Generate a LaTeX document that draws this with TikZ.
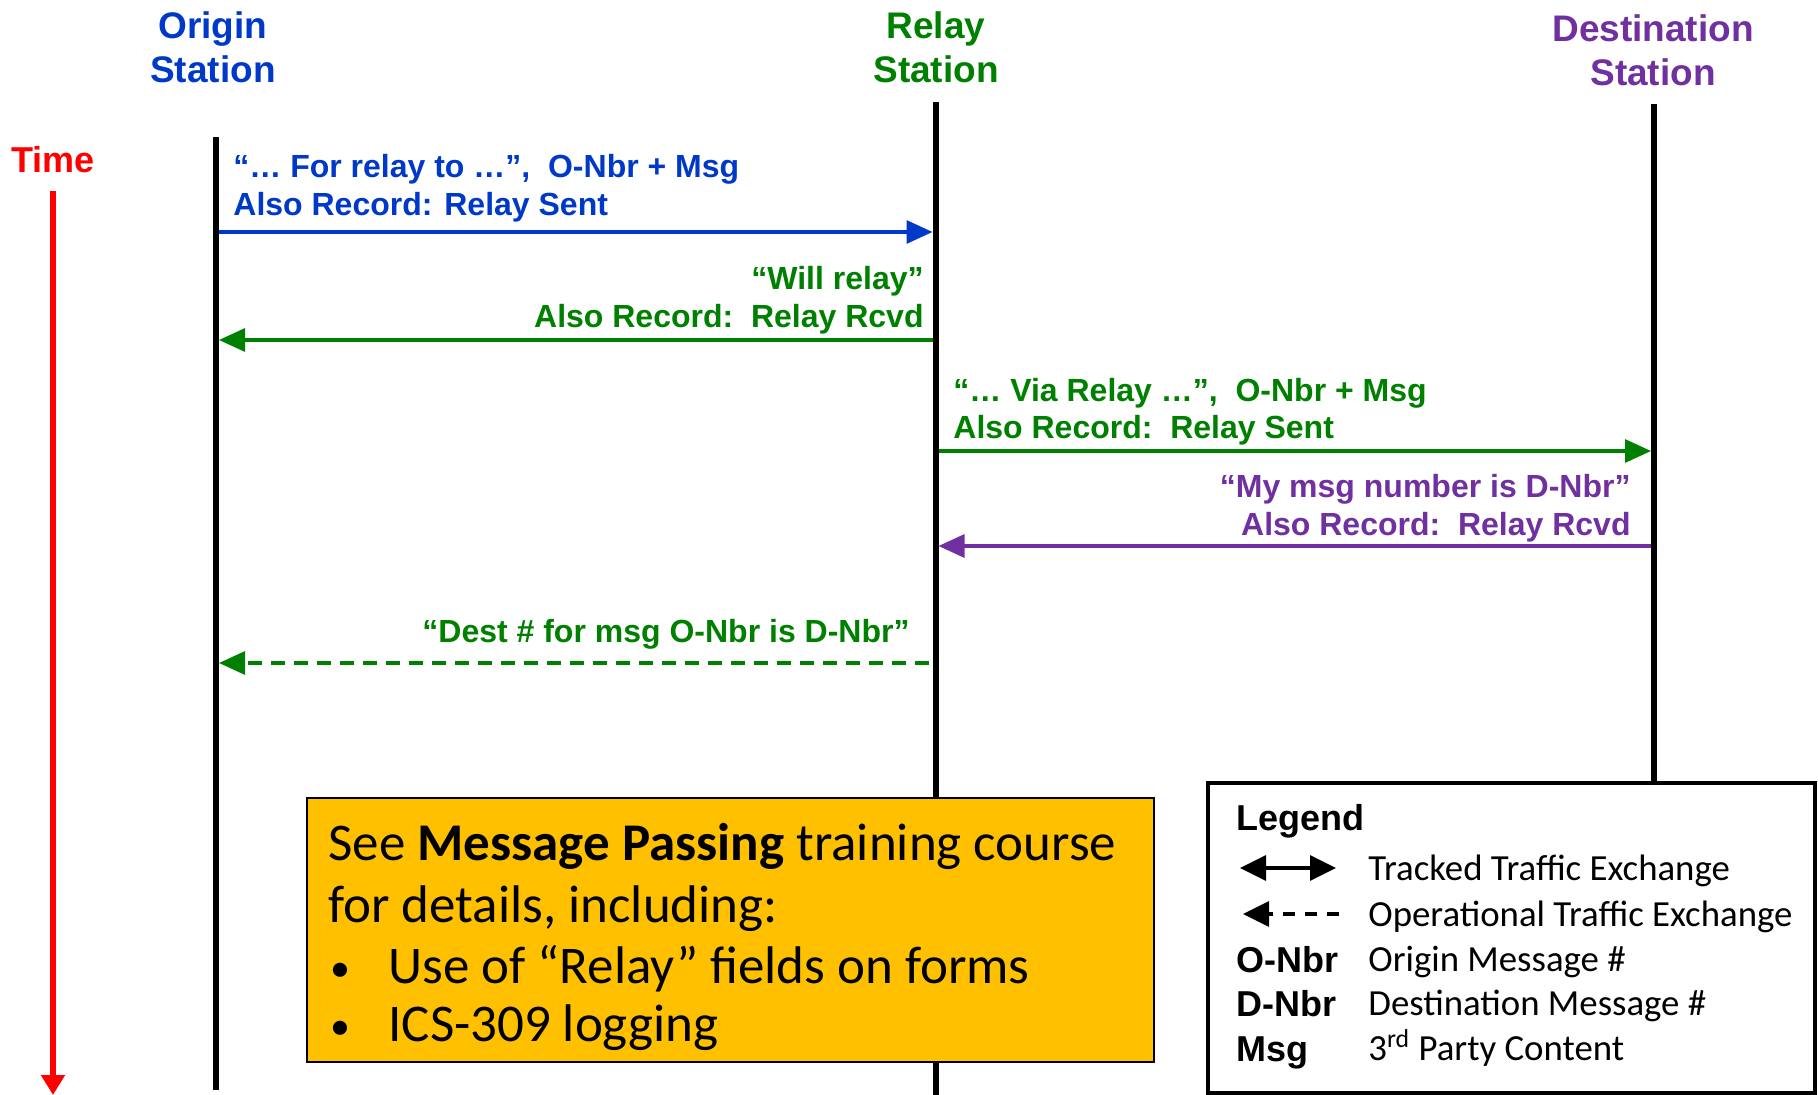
\documentclass[tikz,border=0pt]{standalone}
\usepackage{fontspec}
\usetikzlibrary{arrows.meta}
\newfontfamily\hfont{Liberation Sans}
\newfontfamily\cfont{Carlito}
\definecolor{cblue}{RGB}{0,56,200}
\definecolor{cgreen}{RGB}{0,128,0}
\definecolor{cpurple}{RGB}{112,48,160}
\definecolor{cred}{RGB}{255,0,0}
\definecolor{cyellow}{RGB}{255,192,0}
\begin{document}
\begin{tikzpicture}[x=0.5pt,y=-0.5pt,
  hdr/.style={font=\hfont\bfseries\fontsize{18.5}{22}\selectfont,inner sep=0pt},
  lbl/.style={font=\hfont\bfseries\fontsize{16}{19}\selectfont,inner sep=0pt},
  lifeline/.style={line width=3pt,black},
  msg/.style={line width=1.6pt,-{Triangle[length=13pt,width=11.5pt]}},
  boxtxt/.style={font=\cfont\fontsize{26.5}{30}\selectfont,inner sep=0pt,anchor=base west},
  legkey/.style={font=\hfont\bfseries\fontsize{18}{22}\selectfont,inner sep=0pt,anchor=base west},
  legtxt/.style={font=\cfont\fontsize{18.4}{22}\selectfont,inner sep=0pt,anchor=base west}]
\useasboundingbox (0,0) rectangle (1818,1095);
% headers
\node[hdr,cblue,align=center] (hO) at (213,47) {Origin\\Station};
\node[hdr,cgreen,align=center] (hR) at (936,47) {Relay\\Station};
\node[hdr,cpurple,align=center] (hD) at (1653,50) {Destination\\Station};
% lifelines
\coordinate (oT) at (215.6,137); \coordinate (oB) at (215.6,1090);
\coordinate (rT) at (935.6,102); \coordinate (rB) at (935.6,1095);
\coordinate (dT) at (1654,104); \coordinate (dB) at (1654,783);
\draw[lifeline] (oT) -- (oB);
\draw[lifeline] (rT) -- (rB);
\draw[lifeline] (dT) -- (dB);
% time
\node[font=\hfont\bfseries\fontsize{18}{22}\selectfont,text=cred,inner sep=0pt] (time) at (53,160) {Time};
\coordinate (tT) at (53,191); \coordinate (tB) at (53,1095);
\draw[cred,line width=3pt,-{Triangle[length=10pt,width=11.5pt]}] (tT) -- (tB);
% arrow endpoints
\coordinate (o1) at (219,232); \coordinate (r1) at (932.5,232);
\coordinate (r2) at (932.5,340); \coordinate (o2) at (219,340);
\coordinate (r3) at (938.5,451); \coordinate (d3) at (1651,451);
\coordinate (d4) at (1651,546); \coordinate (r4) at (938.5,546);
\coordinate (r5) at (929,663); \coordinate (o5) at (219,663);
% message 1
\node[lbl,cblue,anchor=base west] (m1a) at (233,177.5) {“… For relay to …”,\ \ O-Nbr + Msg};
\node[lbl,cblue,anchor=base west] (m1b) at (233,215.5) {Also Record: Relay Sent};
\draw[msg,cblue] (o1) -- (r1);
% message 2
\node[lbl,cgreen,anchor=base east] (m2a) at (924,289.5) {“Will relay”};
\node[lbl,cgreen,anchor=base east] (m2b) at (924,327.5) {Also Record:\ \ Relay Rcvd};
\draw[msg,cgreen] (r2) -- (o2);
% message 3
\node[lbl,cgreen,anchor=base west] (m3a) at (953,401.5) {“… Via Relay …”,\ \ O-Nbr + Msg};
\node[lbl,cgreen,anchor=base west] (m3b) at (953,438.5) {Also Record:\ \ Relay Sent};
\draw[msg,cgreen] (r3) -- (d3);
% message 4
\node[lbl,cpurple,anchor=base east] (m4a) at (1631,497.5) {“My msg number is D-Nbr”};
\node[lbl,cpurple,anchor=base east] (m4b) at (1631,535.5) {Also Record:\ \ Relay Rcvd};
\draw[msg,cpurple] (d4) -- (r4);
% message 5
\node[lbl,cgreen,anchor=base east] (m5a) at (910,642.5) {“Dest \# for msg O-Nbr is D-Nbr”};
\draw[msg,cgreen,dash pattern=on 7pt off 4.5pt] (r5) -- (o5);
% yellow box
\node[draw=black,line width=1pt,fill=cyellow,minimum width=423.5pt,minimum height=132pt,inner sep=0pt] (note) at (730.5,930) {};
\node[boxtxt] (n1) at (328,860) {See \textbf{Message Passing} training course};
\node[boxtxt] (n2) at (328,922) {for details, including:};
\node[boxtxt,font=\cfont\fontsize{20}{24}\selectfont] (n3b) at (330,981) {•};
\node[boxtxt] (n3) at (388,983) {Use of “Relay” fields on forms};
\node[boxtxt,font=\cfont\fontsize{20}{24}\selectfont] (n4b) at (330,1039) {•};
\node[boxtxt] (n4) at (388,1041) {ICS-309 logging};
% legend
\node[draw=black,line width=2pt,fill=white,minimum width=303.5pt,minimum height=155pt,inner sep=0pt] (leg) at (1511.5,938) {};
\node[legkey] (lg) at (1236,830) {Legend};
\coordinate (k1a) at (1240,868); \coordinate (k1b) at (1336,868);
\draw[line width=1.6pt,{Triangle[length=13pt,width=12.5pt]}-{Triangle[length=13pt,width=12.5pt]}] (k1a) -- (k1b);
\node[legtxt] (t1) at (1368,880) {Tracked Traffic Exchange};
\coordinate (k2a) at (1243,914); \coordinate (k2b) at (1339,914);
\draw[line width=1.6pt,dash pattern=on 6pt off 5pt,-{Triangle[length=13pt,width=12.5pt]}] (k2b) -- (k2a);
\node[legtxt] (t2) at (1368,926) {Operational Traffic Exchange};
\node[legkey] (k3) at (1236,972) {O-Nbr};
\node[legtxt] (t3) at (1368,971) {Origin Message \#};
\node[legkey] (k4) at (1236,1016) {D-Nbr};
\node[legtxt] (t4) at (1368,1015) {Destination Message \#};
\node[legkey] (k5) at (1236,1061) {Msg};
\node[legtxt] (t5) at (1368,1060) {3\textsuperscript{rd} Party Content};
\end{tikzpicture}
\end{document}
